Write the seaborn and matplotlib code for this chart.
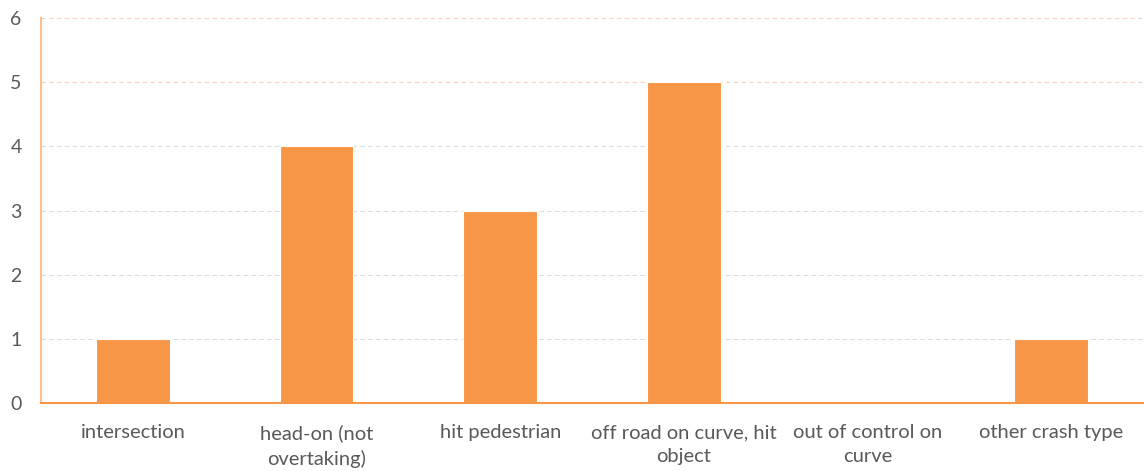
import matplotlib.pyplot as plt
import numpy as np
import pandas as pd
import seaborn as sns

categories = [
    "intersection",
    "head-on (not\novertaking)",
    "hit pedestrian",
    "off road on curve, hit\nobject",
    "out of control on\ncurve",
    "other crash type",
]
counts = [1, 4, 3, 5, 0, 1]

df = pd.DataFrame({"type": categories, "count": counts})

sns.set_style("white")
plt.rcParams["font.family"] = ["Lato", "DejaVu Sans"]

fig = plt.figure(figsize=(11.44, 4.71), dpi=100)
ax = fig.add_axes([0.036, 0.144, 0.963, 0.818])

sns.barplot(data=df, x="type", y="count", color="#F79646", width=0.4,
            saturation=1, ax=ax, zorder=3, edgecolor="white", linewidth=0.8)

ax.set_xlim(-0.5, len(categories) - 0.5)
ax.set_ylim(0, 6)
ax.set_yticks(range(0, 7))
ax.set_xlabel("")
ax.set_ylabel("")

ax.yaxis.grid(True, linestyle=(0, (4, 3)), linewidth=0.8, color="#d9dbe8", zorder=0)
for i, gl in enumerate(ax.get_ygridlines()):
    if i >= 5:
        gl.set_color("#f5d3c0")

for s in ["top", "right"]:
    ax.spines[s].set_visible(False)
ax.spines["left"].set_color("#FAC090")
ax.spines["left"].set_linewidth(1.5)
ax.spines["bottom"].set_color("#F79646")
ax.spines["bottom"].set_linewidth(1.5)
ax.spines["bottom"].set_zorder(4)

ax.tick_params(axis="y", length=0, labelsize=14, labelcolor="#595959", pad=14)
ax.tick_params(axis="x", which="major", length=0, labelsize=14.5, labelcolor="#595959", pad=15)
for lbl in ax.get_xticklabels():
    lbl.set_linespacing(1.5)
ax.set_xticks(np.arange(-0.5, len(categories)), minor=True)
ax.tick_params(axis="x", which="minor", length=6, width=1.2, color="#F79646", direction="in")

fig.savefig("out.png", dpi=100)
